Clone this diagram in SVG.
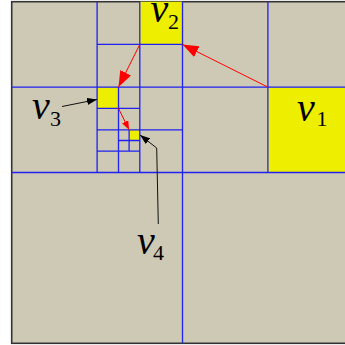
<svg xmlns="http://www.w3.org/2000/svg" width="345" height="345" viewBox="0 0 345 345">
<defs>
<style>
.bg{fill:#cdc9b4;stroke:#333;stroke-width:1.6}
.y{fill:#eeee00}
.g{stroke:#2020f0;stroke-width:1.3;fill:none}
.r{stroke:#ff0000;stroke-width:1;fill:none}
.k{stroke:#111;stroke-width:1;fill:none}
.v{font-family:"Liberation Serif",serif;font-style:italic;font-size:40px;fill:#000}
.s{font-family:"Liberation Serif",serif;font-style:normal;font-size:22px;fill:#000}
</style>
<marker id="rb" markerUnits="userSpaceOnUse" viewBox="0 0 16 12" refX="16" refY="6" markerWidth="16" markerHeight="12" orient="auto"><path d="M0,0 L16,6 L0,12 z" fill="#ff0000"/></marker>
<marker id="rs" markerUnits="userSpaceOnUse" viewBox="0 0 9 7" refX="9" refY="3.5" markerWidth="9" markerHeight="7" orient="auto"><path d="M0,0 L9,3.5 L0,7 z" fill="#ff0000"/></marker>
<marker id="kb" markerUnits="userSpaceOnUse" viewBox="0 0 10 7" refX="10" refY="3.5" markerWidth="10" markerHeight="7" orient="auto"><path d="M0,0 L10,3.5 L0,7 z" fill="#000"/></marker>
</defs>
<rect class="bg" x="11.7" y="1.7" width="341.6" height="341.6"/>
<g id="v1"><rect class="y" x="267.9" y="87.1" width="85.4" height="85.4"/><text class="v" x="297" y="120.5">v<tspan class="s" x="316.5" y="125.5">1</tspan></text></g>
<g id="v2"><rect class="y" x="139.8" y="1.7" width="42.7" height="42.7"/><text class="v" x="150.5" y="22">v<tspan class="s" x="168" y="28.5">2</tspan></text></g>
<g id="v3"><rect class="y" x="97.1" y="87.1" width="21.4" height="21.35"/><text class="v" x="32" y="118.5">v<tspan class="s" x="50" y="126">3</tspan></text></g>
<g id="v4"><rect class="y" x="129.1" y="129.8" width="10.7" height="10.7"/><text class="v" x="137" y="253.5">v<tspan class="s" x="153" y="259.5">4</tspan></text></g>
<g id="grid">
<path class="g" d="M182.5,1.7V343.3 M11.7,172.5H353.3 M267.9,1.7V172.5 M11.7,87.1H353.3 M97.1,1.7V172.5 M139.8,1.7V172.5 M97.1,44.4H182.5 M97.1,129.8H182.5 M118.5,87.1V172.5 M97.1,108.45H139.8 M97.1,151.15H139.8 M129.1,129.8V151.15 M118.5,140.5H139.8"/>
</g>
<g id="connectors">
<line class="r" x1="267.9" y1="87.1" x2="182.5" y2="44.4" marker-end="url(#rb)"/>
<line class="r" x1="139.8" y1="44.4" x2="118.5" y2="87.1" marker-end="url(#rb)"/>
<line class="r" x1="118.5" y1="108.45" x2="129.1" y2="129.8" marker-end="url(#rs)"/>
<line class="k" x1="62" y1="106.5" x2="97" y2="99.5" marker-end="url(#kb)"/>
<path class="k" d="M158.3,224 L156.7,148 L140,135" marker-end="url(#kb)"/>
</g>
</svg>
